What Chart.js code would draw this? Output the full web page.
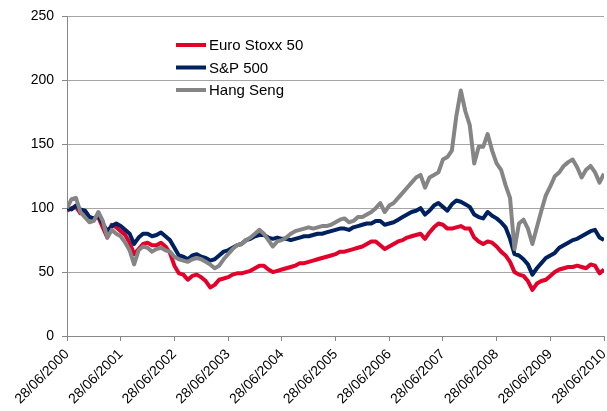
<!DOCTYPE html>
<html lang="en">
<head>
    <meta charset="UTF-8">
    <title>Euro Stoxx 50 / S&amp;P 500 / Hang Seng</title>
    <script src="https://cdn.jsdelivr.net/npm/chart.js"></script>
    <style>
        html, body { margin: 0; padding: 0; background: #fff; }
        #wrap { width: 607px; height: 411px; }
    </style>
</head>
<body>
    <div id="wrap"><canvas id="indexChart" width="607" height="411"></canvas></div>

    <script>
        // tick labels on the x axis (one per year, 12 months apart)
        const yearLabels = ['28/06/2000', '28/06/2001', '28/06/2002', '28/06/2003', '28/06/2004', '28/06/2005',
                            '28/06/2006', '28/06/2007', '28/06/2008', '28/06/2009', '28/06/2010'];
        const yTicks = [0, 50, 100, 150, 200, 250];

        // monthly readings (28th of each month, base 28/06/2000 = 100)
        const euroStoxx = [
            98, 100, 101, 96, 98, 93, 92, 93, 85, 77, 87, 85,
            82, 79, 73, 64, 68, 72, 73, 71, 71, 73, 70, 65,
            55, 49, 48, 44, 47, 48, 46, 43, 38, 40, 44, 45,
            46, 48, 49, 49, 50, 51, 53, 55, 55, 52, 50, 51,
            52, 53, 54, 55, 57, 57, 58, 59, 60, 61, 62, 63,
            64, 66, 66, 67, 68, 69, 70, 72, 74, 74, 71, 68,
            70, 72, 74, 75, 77, 78, 79, 80, 76, 81, 85, 88,
            87, 84, 84, 85, 86, 84, 84, 77, 74, 72, 74, 73,
            70, 66, 63, 58, 50, 48, 47, 43, 36, 41, 43, 44,
            47, 50, 52, 53, 54, 54, 55, 54, 53, 56, 55, 49,
            52
        ];
        const sp500 = [
            100, 99, 102, 99, 98, 93, 92, 94, 88, 82, 86, 88,
            86, 83, 80, 72, 77, 80, 80, 78, 79, 81, 78, 75,
            69, 63, 62, 60, 63, 64, 62, 61, 59, 60, 63, 66,
            67, 69, 71, 72, 75, 76, 78, 79, 79, 77, 76, 77,
            76, 76, 75, 76, 77, 78, 78, 79, 80, 80, 81, 82,
            83, 84, 84, 83, 85, 86, 87, 88, 88, 90, 90, 87,
            88, 89, 91, 93, 95, 97, 98, 100, 95, 98, 102, 104,
            101, 98, 103, 106, 105, 103, 101, 95, 93, 92, 97, 94,
            92, 89, 85, 76, 64, 63, 60, 56, 48, 53, 57, 61,
            63, 65, 69, 71, 73, 75, 76, 78, 80, 82, 83, 77,
            75
        ];
        const hangSeng = [
            100, 107, 108, 97, 93, 89, 90, 97, 90, 77, 83, 80,
            78, 73, 67, 56, 67, 70, 69, 66, 68, 69, 67, 66,
            62, 60, 59, 58, 60, 61, 60, 58, 56, 53, 55, 60,
            64, 68, 71, 72, 75, 77, 80, 83, 80, 75, 70, 74,
            75, 77, 80, 82, 83, 84, 85, 84, 85, 86, 86, 87,
            89, 91, 92, 89, 90, 93, 93, 95, 97, 100, 104, 97,
            102, 104, 108, 112, 116, 120, 124, 126, 116, 124, 126, 128,
            138, 140, 145, 172, 192, 176, 165, 135, 148, 148, 158, 145,
            135, 130, 118, 108, 68, 88, 91, 84, 72, 85, 98, 110,
            117, 125, 128, 133, 136, 138, 132, 124, 130, 133, 128, 120,
            127
        ];

        const months = euroStoxx.map((_, i) => i);
        const toPoints = values => values.map((v, i) => ({ x: months[i], y: v }));

        // legend drawn inside the plot, upper left
        const insideLegend = {
            id: 'insideLegend',
            afterDraw(chart) {
                const ctx = chart.ctx;
                const x0 = 176, y0 = 45, gap = 22.5;
                ctx.save();
                ctx.font = '15px "Liberation Sans", Arial, sans-serif';
                ctx.textBaseline = 'middle';
                chart.data.datasets.forEach((ds, i) => {
                    const y = y0 + i * gap;
                    ctx.strokeStyle = ds.borderColor;
                    ctx.lineWidth = 4;
                    ctx.beginPath();
                    ctx.moveTo(x0, y);
                    ctx.lineTo(x0 + 30, y);
                    ctx.stroke();
                    ctx.fillStyle = '#000';
                    ctx.fillText(ds.label, x0 + 33, y + 1);
                });
                ctx.restore();
            }
        };

        const ctx = document.getElementById('indexChart').getContext('2d');
        new Chart(ctx, {
            type: 'line',
            data: {
                datasets: [
                    { label: 'Euro Stoxx 50', data: toPoints(euroStoxx), borderColor: '#e3002b', order: 3 },
                    { label: 'S&P 500', data: toPoints(sp500), borderColor: '#00215f', order: 2 },
                    { label: 'Hang Seng', data: toPoints(hangSeng), borderColor: '#858585', order: 1 }
                ]
            },
            options: {
                responsive: false,
                animation: false,
                layout: { padding: { top: 16, right: 3, bottom: 0, left: 0 } },
                elements: {
                    point: { radius: 0 },
                    line: { borderWidth: 4, tension: 0, borderJoinStyle: 'round' }
                },
                plugins: {
                    legend: { display: false },
                    tooltip: { enabled: false }
                },
                scales: {
                    x: {
                        type: 'linear',
                        min: 0,
                        max: 120,
                        afterFit: scale => {
                            scale.height = 75;
                            scale.paddingRight = 0;
                            scale.paddingLeft = 0;
                        },
                        ticks: {
                            stepSize: 12,
                            minRotation: 45,
                            maxRotation: 45,
                            padding: 5,
                            color: '#000',
                            font: { family: '"Liberation Sans", Arial, sans-serif', size: 14 },
                            callback: value => yearLabels[value / 12]
                        },
                        grid: { drawOnChartArea: false, drawTicks: true, tickLength: 5, tickColor: '#888' },
                        border: { color: '#888', width: 1 }
                    },
                    y: {
                        min: 0,
                        max: 250,
                        afterFit: scale => { scale.width = 67; },
                        afterBuildTicks: scale => { scale.ticks = yTicks.map(v => ({ value: v })); },
                        ticks: {
                            padding: 8,
                            color: '#000',
                            font: { family: '"Liberation Sans", Arial, sans-serif', size: 14 }
                        },
                        grid: {
                            color: '#a6a6a6',
                            borderDash: [3, 2],
                            tickLength: 5,
                            tickColor: '#888',
                            tickBorderDash: []
                        },
                        border: { color: '#888', width: 1 }
                    }
                }
            },
            plugins: [insideLegend]
        });
    </script>
</body>
</html>
